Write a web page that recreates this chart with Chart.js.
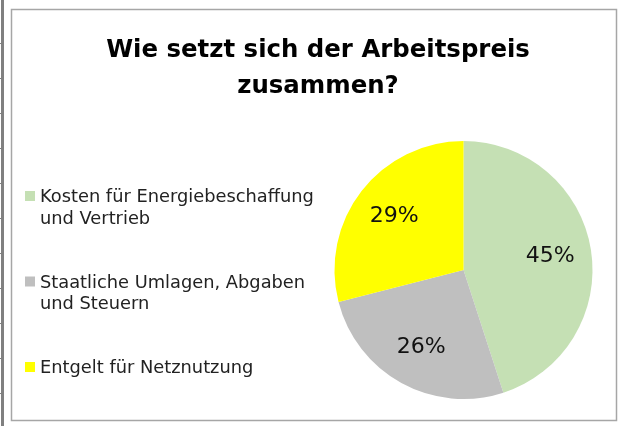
<!DOCTYPE html>
<html>
<head>
<meta charset="utf-8">
<script src="https://cdn.jsdelivr.net/npm/chart.js@4"></script>
<style>
html,body{margin:0;padding:0;background:#fff;}
#wrap{position:relative;width:621px;height:426px;}
canvas{display:block;}
</style>
</head>
<body>
<div id="wrap"><canvas id="c" width="621" height="426"></canvas></div>
<script>
// ---- data ----
const titleLines = ['Wie setzt sich der Arbeitspreis', 'zusammen?'];
const categories = [
  ['Kosten für Energiebeschaffung', 'und Vertrieb'],
  ['Staatliche Umlagen, Abgaben', 'und Steuern'],
  ['Entgelt für Netznutzung']
];
const values = [45, 26, 29];
const colors = ['#C5E0B4', '#BFBFBF', '#FFFF00'];

const FAMILY = '"DejaVu Sans", sans-serif';

function fitSize(ctx, text, weight, target) {
  ctx.font = weight + ' 100px ' + FAMILY;
  const w = ctx.measureText(text).width;
  return 100 * target / w;
}

const decoPlugin = {
  id: 'deco',
  beforeDraw(chart) {
    const ctx = chart.ctx;
    ctx.save();
    ctx.fillStyle = '#fff';
    ctx.fillRect(0, 0, chart.width, chart.height);
    ctx.fillStyle = '#808080';
    ctx.fillRect(1, 0, 3, chart.height);
    for (let y = 43; y < chart.height; y += 35) {
      ctx.fillRect(0, y, 1, 1);
    }
    ctx.strokeStyle = '#A6A6A6';
    ctx.lineWidth = 1.5;
    ctx.strokeRect(11.5, 9.5, 605, 411);
    ctx.restore();
  },
  afterDraw(chart) {
    const ctx = chart.ctx;
    ctx.save();
    // title
    ctx.fillStyle = '#000';
    ctx.textAlign = 'center';
    ctx.textBaseline = 'alphabetic';
    const ts = fitSize(ctx, titleLines[0], 'bold', 424);
    ctx.font = 'bold ' + ts.toFixed(2) + 'px ' + FAMILY;
    titleLines.forEach((t, i) => ctx.fillText(t, 318, 57 + i * 36));
    // legend
    ctx.textAlign = 'left';
    const ls = fitSize(ctx, categories[0][0], 'normal', 274);
    ctx.font = 'normal ' + ls.toFixed(2) + 'px ' + FAMILY;
    const meta = chart.getDatasetMeta(0);
    categories.forEach((lines, i) => {
      const base = 202 + i * 85.5;
      ctx.fillStyle = meta.data[i].options.backgroundColor;
      ctx.fillRect(25, base - 11, 10, 10);
      ctx.fillStyle = '#222';
      lines.forEach((ln, j) => ctx.fillText(ln, 40, base + j * 21.5));
    });
    // data labels
    const total = values.reduce((a, b) => a + b, 0);
    const ds = fitSize(ctx, '45%', 'normal', 49);
    ctx.font = 'normal ' + ds.toFixed(2) + 'px ' + FAMILY;
    ctx.textAlign = 'center';
    ctx.textBaseline = 'middle';
    ctx.fillStyle = '#111';
    meta.data.forEach((arc, i) => {
      const p = arc.getProps(['x', 'y', 'startAngle', 'endAngle', 'outerRadius'], true);
      const mid = (p.startAngle + p.endAngle) / 2;
      const r = p.outerRadius * 0.68;
      const pct = Math.round(values[i] / total * 100) + '%';
      ctx.fillText(pct, p.x + Math.cos(mid) * r, p.y + Math.sin(mid) * r);
    });
    ctx.restore();
  }
};

new Chart(document.getElementById('c'), {
  type: 'pie',
  data: {
    labels: categories,
    datasets: [{
      data: values,
      backgroundColor: colors,
      borderWidth: 0
    }]
  },
  options: {
    responsive: false,
    animation: false,
    rotation: 0,
    layout: { padding: { left: 334, top: 141, right: 28, bottom: 27 } },
    plugins: {
      legend: { display: false },
      title: { display: false },
      tooltip: { enabled: false }
    }
  },
  plugins: [decoPlugin]
});
</script>
</body>
</html>
